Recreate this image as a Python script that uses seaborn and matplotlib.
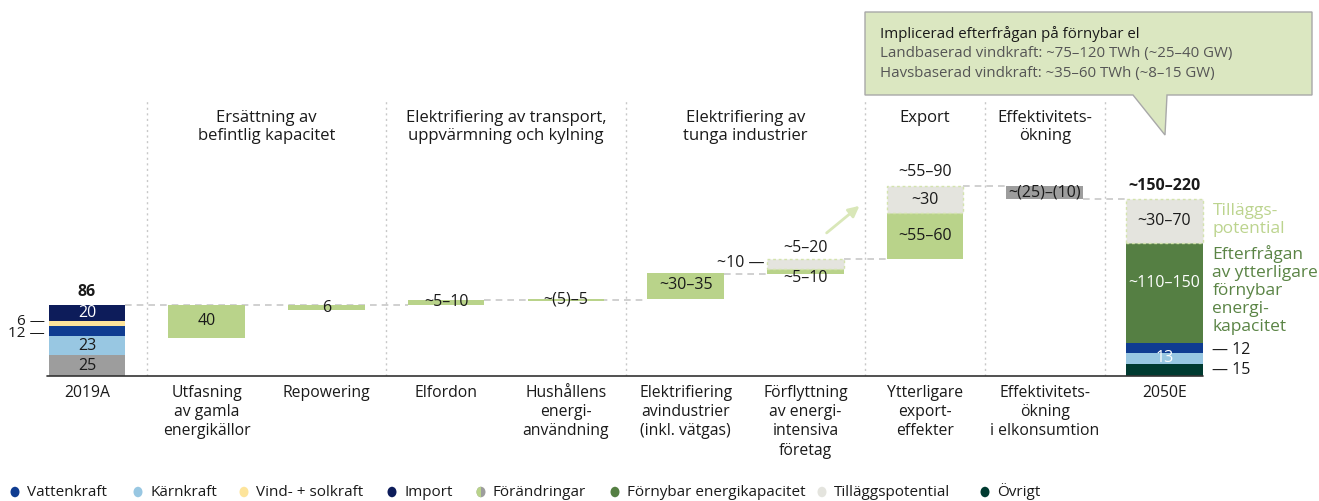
import matplotlib.pyplot as plt
import seaborn as sns
from matplotlib.patches import Polygon, Ellipse, Rectangle
from matplotlib.transforms import IdentityTransform

sns.set_theme(style="white")
plt.rcParams["font.family"] = ["Open Sans", "DejaVu Sans"]

# ---- data (TWh) ----
categories = [
    "2019A", "Utfasning\nav gamla\nenergikällor", "Repowering", "Elfordon",
    "Hushållens\nenergi-\nanvändning", "Elektrifiering\navindustrier\n(inkl. vätgas)",
    "Förflyttning\nav energi-\nintensiva\nföretag", "Ytterligare\nexport-\neffekter",
    "Effektivitets-\nökning\ni elkonsumtion", "2050E",
]
groups = ["Ersättning av\nbefintlig kapacitet",
          "Elektrifiering av transport,\nuppvärmning och kylning",
          "Elektrifiering av\ntunga industrier", "Export", "Effektivitets-\nökning"]
group_pos = [1.5, 3.5, 5.5, 7, 8]

# 2019A stack, bottom to top: other, nuclear, hydro, wind+solar, import
base_values = [25, 23, 12, 6, 20]
base_labels = ["25", "23", "", "", "20"]

# 2050E stack, bottom to top: other, nuclear, hydro, renewables
end_values = [15, 13, 12, 121]
end_labels = ["", "13", "", "~110–150"]

# waterfall steps
step_idx = [1, 2, 3, 4, 5, 6, 7, 8]
step_low = [46, 80, 86, 91, 93, 124, 142, 214]
step_high = [86, 86, 92, 93, 125, 130, 197, 230]
step_labels = ["40", "6", "~5–10", "~(5)–5", "~30–35", "~5–10", "~55–60", "~(25)–(10)"]
step_label_y = [66, 82, 89, 92, 110, 119, 170, 222]

# additional potential
pot_idx = [6, 7, 9]
pot_low = [130, 197, 161]
pot_high = [142, 230, 214]
pot_labels = ["", "~30", "~30–70"]

conn_from = [0, 3, 5, 6, 7, 8]
conn_to = [3, 5, 6, 7, 8, 9]
conn_level = [86, 92, 124, 142, 230, 214]

# ---- colours ----
c_other = "#9d9d9d"
c_nuclear = "#98c7e2"
c_hydro = "#0f3c91"
c_wind = "#fde49b"
c_import = "#0d1c5a"
c_change = "#b9d38a"
c_renew = "#557f43"
c_pot = "#e4e4de"
c_rest = "#003a30"
c_text = "#1a1a1a"

W, H = 1319, 501
fig = plt.figure(figsize=(W / 100, H / 100), dpi=100)
ax = fig.add_axes([45.1 / W, 125 / H, 1161.3 / W, 281 / H])
ax.set_xlim(-0.35, 9.35)
ax.set_ylim(0, 340)
ax.axis("off")

bw = 0.64
fs = 11.5

# separators
ax.vlines([0.5, 2.5, 4.5, 6.5, 7.5, 8.5], 0, 335, colors="#c8c8c8",
          linestyles=(0, (1.5, 2.5)), lw=1, zorder=0)
# connectors
for a, b, lev in zip(conn_from, conn_to, conn_level):
    ax.plot([a + bw / 2, b - bw / 2], [lev, lev], color="#c8c8c8",
            ls=(0, (4, 3)), lw=1.2, zorder=1)

# 2019A
bottom = 0
for v, col, lab in zip(base_values, [c_other, c_nuclear, c_hydro, c_wind, c_import], base_labels):
    ax.bar(0, v, bottom=bottom, width=bw, color=col, lw=0, zorder=2)
    if lab:
        ax.text(0, bottom + v / 2, lab, ha="center", va="center", fontsize=fs,
                color="white" if col == c_import else c_text, zorder=5)
    bottom += v
ax.text(0, 101.5, "86", ha="center", va="center", fontsize=fs, fontweight="bold", color=c_text)
ax.text(-0.35, 66, "6 —", ha="right", va="center", fontsize=11, color=c_text)
ax.text(-0.35, 51, "12 —", ha="right", va="center", fontsize=11, color=c_text)

# steps
for i, lo, hi, lab, ly in zip(step_idx, step_low, step_high, step_labels, step_label_y):
    col = c_other if i == 8 else c_change
    ax.bar(i, hi - lo, bottom=lo, width=bw, color=col, lw=0, zorder=2)
    ax.text(i, ly, lab, ha="center", va="center", fontsize=fs, color=c_text, zorder=5)

# 2050E
bottom = 0
for v, col, lab in zip(end_values, [c_rest, c_nuclear, c_hydro, c_renew], end_labels):
    ax.bar(9, v, bottom=bottom, width=bw, color=col, lw=0, zorder=2)
    if lab:
        ax.text(9, bottom + v / 2 + (12 if col == c_renew else 0), lab, ha="center",
                va="center", fontsize=fs, color="white", zorder=5)
    bottom += v

# potential
for i, lo, hi, lab in zip(pot_idx, pot_low, pot_high, pot_labels):
    ax.bar(i, hi - lo, bottom=lo, width=bw, color=c_pot, edgecolor="#d3e3ad",
           ls=(0, (2, 2)), lw=1, zorder=2)
    if lab:
        ax.text(i, (lo + hi) / 2, lab, ha="center", va="center", fontsize=fs, color=c_text, zorder=5)

ax.text(6, 155, "~5–20", ha="center", va="center", fontsize=fs, color=c_text)
ax.text(5.66, 137, "~10 —", ha="right", va="center", fontsize=fs, color=c_text)
ax.text(7, 247, "~55–90", ha="center", va="center", fontsize=fs, color=c_text)
ax.text(9, 230, "~150–220", ha="center", va="center", fontsize=fs, fontweight="bold", color=c_text)
ax.annotate("", xy=(6.47, 208), xytext=(6.16, 171),
            arrowprops=dict(arrowstyle="-|>", color="#d9e7b8", lw=2, mutation_scale=16))

ax.text(9.4, 31.5, "— 12", ha="left", va="center", fontsize=fs, color=c_text, clip_on=False)
ax.text(9.4, 7, "— 15", ha="left", va="center", fontsize=fs, color=c_text, clip_on=False)
ax.text(9.4, 189, "Tilläggs-\npotential", ha="left", va="center", fontsize=12.5,
        color="#bcd48e", linespacing=1.15, clip_on=False)
ax.text(9.4, 104, "Efterfrågan\nav ytterligare\nförnybar\nenergi-\nkapacitet", ha="left",
        va="center", fontsize=12.5, color="#5a8445", linespacing=1.15, clip_on=False)

# baseline
ax.plot([-0.33, 9.32], [0, 0], color="#333333", lw=1.2, zorder=3, clip_on=False)

# group headers
for g, p in zip(groups, group_pos):
    ax.text(p, 301.5 if "\n" in g else 312, g, ha="center", va="center",
            fontsize=12, color=c_text, linespacing=1.15)

# category labels
for i, c in enumerate(categories):
    ax.annotate(c, xy=(i, H - 385), xycoords=("data", "figure pixels"), ha="center",
                va="top", fontsize=11.3, color=c_text, linespacing=1.27)

# callout
ident = IdentityTransform()
pts = [(865, 12), (1312, 12), (1312, 95), (1167, 95), (1165, 135), (1133, 95), (865, 95)]
fig.patches.append(Polygon([(x, H - y) for x, y in pts], closed=True, facecolor="#dbe7c1",
                           edgecolor="#a8a8a8", lw=1, transform=ident, figure=fig))
fig.text(880 / W, 1 - 34 / H, "Implicerad efterfrågan på förnybar el", fontsize=10.8,
         color=c_text, va="center")
fig.text(880 / W, 1 - 53 / H, "Landbaserad vindkraft: ~75–120 TWh (~25–40 GW)", fontsize=10.8,
         color="#555555", va="center")
fig.text(880 / W, 1 - 73 / H, "Havsbaserad vindkraft: ~35–60 TWh (~8–15 GW)", fontsize=10.8,
         color="#555555", va="center")

# legend
leg_names = ["Vattenkraft", "Kärnkraft", "Vind- + solkraft", "Import", "Förändringar",
             "Förnybar energikapacitet", "Tilläggspotential", "Övrigt"]
leg_colors = [c_hydro, c_nuclear, c_wind, c_import, c_other, c_renew, c_pot, c_rest]
leg_x = [15, 138, 244, 392, 481, 615, 822, 985]
ly = H - 492
for name, col, lx in zip(leg_names, leg_colors, leg_x):
    e = Ellipse((lx, ly), 9, 10.5, facecolor=col, lw=0, transform=ident)
    fig.patches.append(e)
    if name == "Förändringar":
        e2 = Ellipse((lx, ly), 9, 10.5, facecolor=c_change, lw=0, transform=ident)
        clip = Rectangle((lx - 6, ly - 8), 6, 16, transform=ident)
        e2.set_clip_path(clip)
        fig.patches.append(e2)
    fig.text((lx + 12) / W, ly / H, name, fontsize=11, color=c_text, va="center")

fig.savefig("out.png", dpi=100)
